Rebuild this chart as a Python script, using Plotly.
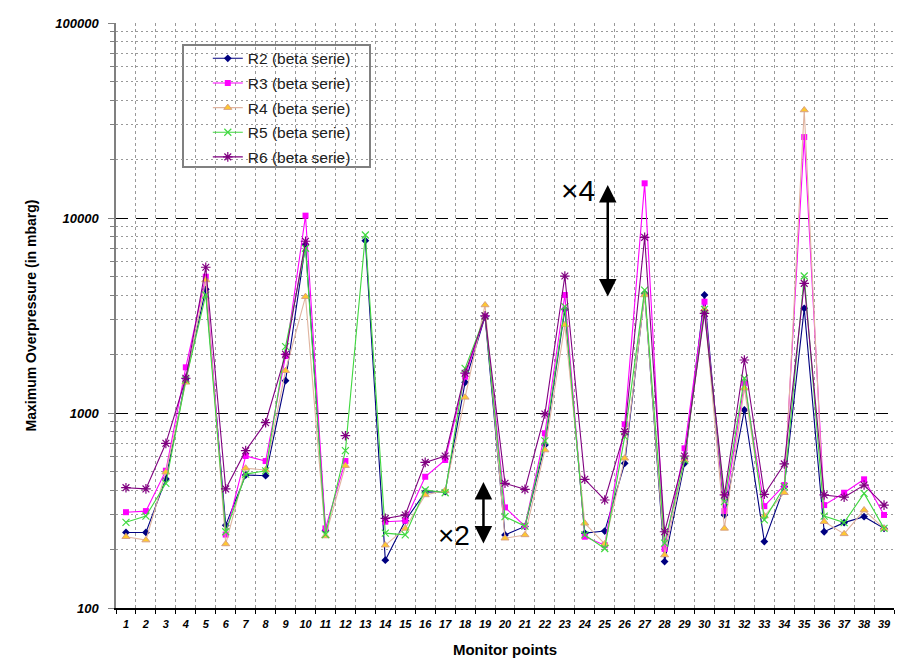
import plotly.graph_objects as go

points = [str(i) for i in range(1, 40)]

r2 = [244, 244, 459, 1500, 4310, 266, 481, 477, 1465, 7300,
      250, None, 7650, 176, 280, 393, 395, 1437, 3120, 237,
      262, 686, 3400, 242, 248, 552, 4100, 173, 552, 4030,
      300, 1036, 219, 419, 3440, 246, 274, 294, 256]
r3 = [310, 314, 506, 1715, 5000, 238, 602, 567, 1960, 10280,
      256, 567, None, 277, 280, 471, 574, 1536, 3150, 328,
      263, 787, 4030, 232, 210, 875, 15060, 201, 659, 3720,
      314, 1420, 333, 427, 26000, 337, 390, 457, 300]
r4 = [232, 223, 497, 1437, 4810, 213, 521, 510, 1648, 3950,
      234, 537, None, 210, 256, 380, 400, 1203, 3580, 228,
      237, 646, 2830, 272, 213, 586, 4030, 187, 574, 3400,
      256, 1340, 296, 390, 35800, 277, 240, 318, 256]
r5 = [275, 296, 436, 1480, 4030, 246, 486, 505, 2188, 7000,
      238, 641, 8180, 242, 237, 403, 390, 1695, 3150, 294,
      263, 720, 3510, 237, 202, 756, 4270, 215, 574, 3400,
      351, 1507, 283, 419, 5040, 296, 274, 387, 256]
r6 = [414, 408, 699, 1507, 5590, 408, 641, 892, 2000, 7600,
      None, 765, None, 288, 300, 558, 602, 1600, 3150, 436,
      406, 988, 5040, 457, 358, 802, 7960, 246, 602, 3245,
      380, 1870, 383, 548, 4620, 380, 370, 427, 337]

series = [
    ("R2 (beta serie)", r2, "#000080", dict(symbol="diamond", size=6, color="#000080")),
    ("R3 (beta serie)", r3, "#FF00FF", dict(symbol="square", size=6, color="#FF00FF")),
    ("R4 (beta serie)", r4, "#E0B4A0", dict(symbol="triangle-up", size=7, color="#FFC830",
                                           line=dict(color="#D8A080", width=1))),
    ("R5 (beta serie)", r5, "#40D840", dict(symbol="x-thin-open", size=7,
                                           line=dict(color="#40D840", width=1.2))),
    ("R6 (beta serie)", r6, "#800080", dict(symbol="asterisk-open", size=8,
                                           line=dict(color="#800080", width=1.2))),
]

fig = go.Figure()
for i, (name, vals, col, mk) in enumerate(series):
    fig.add_trace(go.Scatter(
        x=points, y=vals, name=name, mode="lines+markers",
        line=dict(color=col, width=1.1), marker=mk,
        connectgaps=False, legendgroup=f"g{i}",
    ))

minor_vals = [m * 10 ** d for d in range(2, 5) for m in range(2, 10)]

fig.update_layout(
    width=904, height=662,
    margin=dict(l=116, r=10, t=23, b=54),
    paper_bgcolor="white", plot_bgcolor="white",
    font=dict(family="Arial, Liberation Sans, sans-serif", color="black"),
    showlegend=True,
    legend=dict(
        x=0.118, y=0.968, xanchor="left", yanchor="top",
        bgcolor="rgba(0,0,0,0)", borderwidth=0,
        font=dict(size=15.5, color="#202020"),
        tracegroupgap=1.5, itemwidth=30,
    ),
    xaxis=dict(
        type="category", tickson="boundaries", tickangle=0,
        range=[-0.5, 38.5], autorange=False, automargin=False,
        showgrid=True, gridcolor="#999999", griddash="3px,3px", gridwidth=1,
        showline=True, linecolor="black", linewidth=1.5,
        ticks="outside", ticklen=4, tickcolor="black",
        ticklabelstandoff=5,
        tickfont=dict(size=11, weight="bold", style="italic"),
        title=dict(text="Monitor points", font=dict(size=15, weight="bold"), standoff=16),
        zeroline=False,
    ),
    yaxis=dict(
        type="log", range=[2, 5], autorange=False, automargin=False,
        tickvals=[100, 1000, 10000, 100000],
        ticktext=["100", "1000", "10000", "100000"],
        showgrid=True, gridcolor="black", griddash="12px,8px", gridwidth=1,
        showline=True, linecolor="#808080", linewidth=1.5,
        ticks="outside", ticklen=6, tickcolor="#808080",
        ticklabelstandoff=7,
        tickfont=dict(size=13, weight="bold", style="italic"),
        minor=dict(tickvals=minor_vals, showgrid=True, gridcolor="#999999",
                   griddash="2px,3px", ticks="outside", ticklen=4, tickcolor="#808080"),
        title=dict(text="Maximum Overpressure (in mbarg)", font=dict(size=14, weight="bold"),
                   standoff=15),
        zeroline=False,
    ),
    shapes=[dict(type="rect", xref="paper", yref="paper",
                 x0=(183 - 116) / 778, x1=(370 - 116) / 778,
                 y0=(608 - 167) / 585, y1=(608 - 45) / 585,
                 line=dict(color="#808080", width=2), fillcolor="white", layer="below")],
    annotations=[
        dict(x=22.65, y=4.14, xref="x", yref="y", text="×4", showarrow=False,
             font=dict(size=30, family="Liberation Sans, Arial")),
        dict(x=24.15, y=4.169, ax=24.15, ay=3.590, xref="x", yref="y", axref="x", ayref="y",
             text="", showarrow=True, arrowside="end+start", arrowhead=2,
             arrowsize=1.4, arrowwidth=2.5, arrowcolor="black"),
        dict(x=16.42, y=2.374, xref="x", yref="y", text="×2", showarrow=False,
             font=dict(size=28, family="Liberation Sans, Arial")),
        dict(x=17.92, y=2.646, ax=17.92, ay=2.323, xref="x", yref="y", axref="x", ayref="y",
             text="", showarrow=True, arrowside="end+start", arrowhead=2,
             arrowsize=1.4, arrowwidth=2.5, arrowcolor="black"),
    ],
)

fig.write_html("out.html")
